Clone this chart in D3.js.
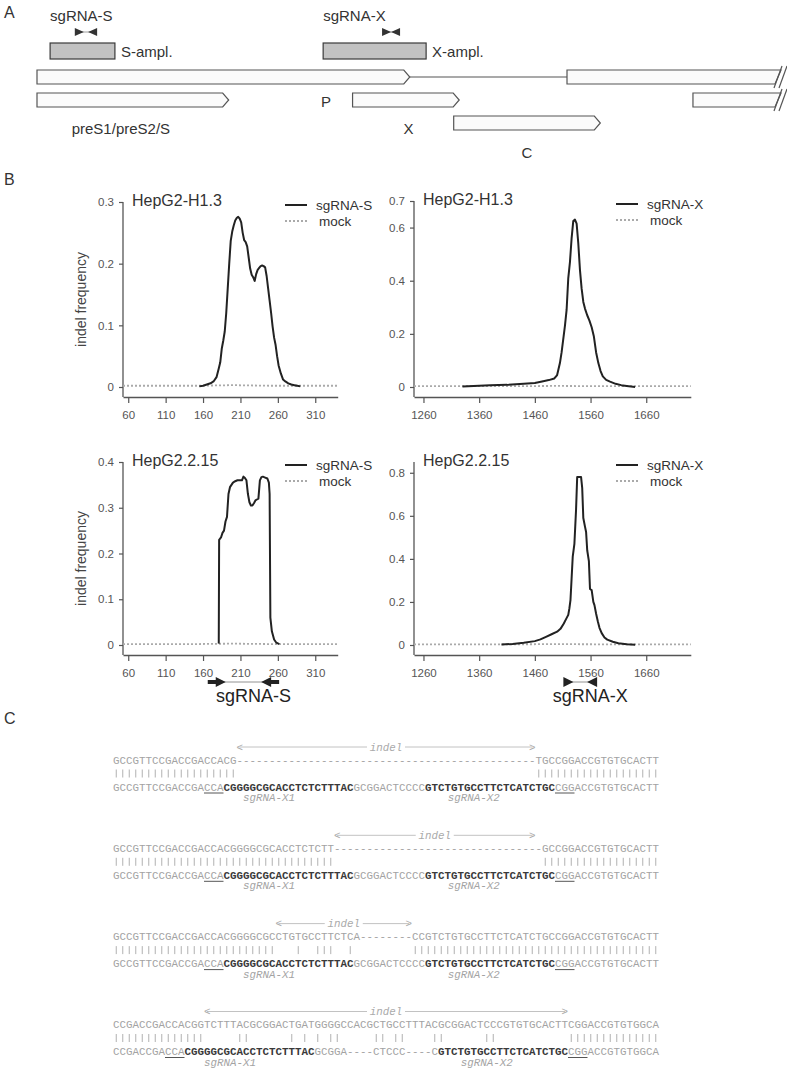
<!DOCTYPE html>
<html><head><meta charset="utf-8">
<script src="https://cdn.jsdelivr.net/npm/d3@7"></script>
<style>body{margin:0;background:#fff} svg{display:block}</style>
</head><body>
<svg id="fig" width="787" height="1068"></svg>
<script>
// ===================== DATA =====================
// Panel A: HBV genome map (nt positions)
const genomeLength = 3182;
const ampliconNames = ["S-ampl.", "X-ampl."];
const ampliconStart = [58, 1246];
const ampliconEnd = [340, 1694];
const sgRNANames = ["sgRNA-S", "sgRNA-X"];
const sgRNALeft = [185, 1522];
const sgRNARight = [243, 1561];
const orfNames = ["P", "preS1/preS2/S", "X", "C"];
const orfStarts = [[1, 2307], [1, 2855], [1374], [1814]];
const orfEnds = [[1623, 3225], [835, 3225], [1838], [2452]];
const orfLinked = [true, false, false, false];
const orfRow = [0, 1, 1, 2];

// Panel B: indel frequency profiles
const sH13x = [155,160,165,170,174,178,181,183,185,187,189,191,193,195,197,199,201,203,205,207,209,211,213,215,217,219,221,223,225,227,229,231,233,235,237,239,241,243,245,247,249,251,253,255,257,259,261,264,267,270,274,278,282,286,290];
const sH13y = [0.001,0.002,0.004,0.006,0.009,0.016,0.03,0.04,0.062,0.075,0.09,0.12,0.16,0.2,0.237,0.252,0.262,0.27,0.274,0.276,0.273,0.267,0.25,0.238,0.235,0.228,0.21,0.192,0.182,0.178,0.172,0.183,0.19,0.193,0.196,0.197,0.196,0.194,0.18,0.16,0.14,0.12,0.098,0.08,0.068,0.05,0.035,0.022,0.012,0.009,0.006,0.004,0.003,0.002,0.001];
const xH13x = [1330,1350,1380,1410,1440,1460,1475,1485,1495,1500,1505,1508,1511,1514,1517,1520,1523,1526,1529,1532,1535,1538,1541,1544,1547,1550,1554,1558,1562,1566,1570,1574,1578,1582,1588,1595,1605,1615,1625,1640];
const xH13y = [0.002,0.004,0.007,0.008,0.012,0.015,0.022,0.026,0.032,0.045,0.09,0.13,0.18,0.23,0.29,0.41,0.47,0.56,0.625,0.63,0.615,0.54,0.44,0.37,0.32,0.295,0.27,0.25,0.225,0.19,0.13,0.09,0.06,0.04,0.027,0.02,0.012,0.007,0.004,0.0];
const s215x = [181,181.5,184,186,188,190,192,194,196,198,200,203,206,209,212,214,216,218,220,222,224,226,228,230,232,234,236,238,240,243,246,248,249,250,252,255,258,262];
const s215y = [0.003,0.23,0.235,0.245,0.25,0.27,0.28,0.33,0.345,0.35,0.355,0.358,0.36,0.36,0.36,0.368,0.365,0.36,0.33,0.312,0.305,0.305,0.31,0.316,0.318,0.32,0.36,0.367,0.368,0.366,0.364,0.355,0.33,0.06,0.03,0.012,0.005,0.002];
const x215x = [1400,1420,1440,1460,1470,1480,1490,1500,1506,1512,1516,1520,1522,1524,1526,1528,1531,1534,1536,1540,1543,1545,1547,1550,1552,1554,1557,1559,1562,1565,1567,1570,1573,1576,1580,1585,1590,1600,1610,1625,1640];
const x215y = [0.002,0.005,0.01,0.018,0.026,0.038,0.05,0.062,0.075,0.1,0.12,0.14,0.17,0.21,0.31,0.41,0.47,0.63,0.78,0.78,0.78,0.73,0.59,0.55,0.525,0.44,0.39,0.26,0.255,0.2,0.185,0.145,0.11,0.08,0.055,0.035,0.025,0.015,0.008,0.004,0.001];
const mockSx = [53,100,150,200,250,300,340];
const mockSy = [0.002,0.002,0.002,0.003,0.002,0.002,0.002];
const mockXx = [1243,1300,1400,1500,1600,1700,1740];
const mockXy = [0.003,0.003,0.003,0.004,0.003,0.003,0.003];
const ticksS = [60,110,160,210,260,310];
const ticksX = [1260,1360,1460,1560,1660];
const plotTitles = ["HepG2-H1.3", "HepG2-H1.3", "HepG2.2.15", "HepG2.2.15"];
const yTicksList = [[0,0.1,0.2,0.3],[0,0.2,0.4,0.6,0.7],[0,0.1,0.2,0.3,0.4],[0,0.2,0.4,0.6,0.8]];
const yMaxList = [0.3, 0.7, 0.4, 0.85];

// Panel C: alignments
const sgX1 = "CGGGGCGCACCTCTCTTTAC";
const sgX2 = "GTCTGTGCCTTCTCATCTGC";
const refA = "GCCGTTCCGACCGACCACGGGGCGCACCTCTCTTTACGCGGACTCCCCGTCTGTGCCTTCTCATCTGCCGGACCGTGTGCACTT";
const refB = "CCGACCGACCA" + "CGGGGCGCACCTCTCTTTAC" + "GCGGA----CTCCC----C" + "GTCTGTGCCTTCTCATCTGC" + "CGG" + "ACCGTGTGGCA";
const queryRows = [
  "GCCGTTCCGACCGACCACG" + "-".repeat(46) + "TGCCGGACCGTGTGCACTT",
  "GCCGTTCCGACCGACCACGGGGCGCACCTCTCTT" + "-".repeat(32) + "GCCGGACCGTGTGCACTT",
  "GCCGTTCCGACCGACCACGGGGCGCCTGTGCCTTCTCA" + "--------" + "CCGTCTGTGCCTTCTCATCTGCCGGACCGTGTGCACTT",
  "CCGACCGACCACGGTCTTTACGCGGACTGATGGGGCCACGCTGCCTTTACGCGGACTCCCGTGTGCACTTCGGACCGTGTGGCA"
];
const refRows = [refA, refA, refA, refB];
const indelFrom = [19, 34, 25, 14];
const indelTo = [65, 65, 46, 70];

// ===================== DRAWING =====================
const svg = d3.select("#fig");
const SANS = "'Liberation Sans', Arial, sans-serif";
const MONO = "'Liberation Mono', 'Courier New', monospace";

[["A", 4, 18], ["B", 4, 185], ["C", 4, 724]].forEach(([t, x, y]) =>
  svg.append("text").attr("x", x).attr("y", y).text(t)
    .attr("font-family", SANS).attr("font-size", 16).attr("fill", "#333"));

// ---------- Panel A ----------
const gx = d3.scaleLinear().domain([1, 3225]).range([37, 778]);
const A = svg.append("g");
const rowTop = [70, 93, 116], boxH = 14, ptLen = 6;

ampliconNames.forEach((name, i) => {
  const x0 = gx(ampliconStart[i]), x1 = gx(ampliconEnd[i]);
  A.append("rect").attr("x", x0).attr("y", 43).attr("width", x1 - x0).attr("height", 16)
    .attr("fill", "#c2c2c2").attr("stroke", "#3a3a3a").attr("stroke-width", 1.2);
  A.append("text").attr("x", x1 + 6).attr("y", 57).text(name)
    .attr("font-family", SANS).attr("font-size", 15).attr("fill", "#333");
  A.append("text").attr("x", x0).attr("y", 21).text(sgRNANames[i])
    .attr("font-family", SANS).attr("font-size", 15).attr("fill", "#333");
  const a = gx(sgRNALeft[i]), b = gx(sgRNARight[i]), cy = 32;
  A.append("line").attr("x1", a).attr("x2", b).attr("y1", cy).attr("y2", cy)
    .attr("stroke", "#888").attr("stroke-width", 0.8);
  A.append("path").attr("d", `M${a - 4.5},${cy - 4} L${a + 4.5},${cy} L${a - 4.5},${cy + 4} Z`).attr("fill", "#333");
  A.append("path").attr("d", `M${b + 4.5},${cy - 4} L${b - 4.5},${cy} L${b + 4.5},${cy + 4} Z`).attr("fill", "#333");
});

orfNames.forEach((name, i) => {
  const y0 = rowTop[orfRow[i]];
  orfStarts[i].forEach((s, j) => {
    const e = orfEnds[i][j];
    const x0 = gx(s), x1 = gx(e);
    if (e > genomeLength) {
      A.append("path").attr("d", `M${x0},${y0} H${x1 + 3} L${x1 - 3},${y0 + boxH} H${x0} Z`)
        .attr("fill", "#fbfbfb").attr("stroke", "#555").attr("stroke-width", 1.2);
      A.append("line").attr("x1", x1 + 1).attr("y1", y0 + boxH + 4).attr("x2", x1 + 9).attr("y2", y0 - 4)
        .attr("stroke", "#555").attr("stroke-width", 1.2);
      A.append("line").attr("x1", x1 - 4).attr("y1", y0 + boxH + 4).attr("x2", x1 + 4).attr("y2", y0 - 4)
        .attr("stroke", "#555").attr("stroke-width", 1.2);
    } else {
      A.append("path").attr("d", `M${x0},${y0} H${x1 - ptLen} L${x1},${y0 + boxH / 2} L${x1 - ptLen},${y0 + boxH} H${x0} Z`)
        .attr("fill", "#fbfbfb").attr("stroke", "#555").attr("stroke-width", 1.2);
    }
  });
  if (orfLinked[i]) {
    for (let j = 0; j < orfStarts[i].length - 1; j++) {
      A.append("line").attr("x1", gx(orfEnds[i][j])).attr("x2", gx(orfStarts[i][j + 1]))
        .attr("y1", y0 + boxH / 2).attr("y2", y0 + boxH / 2).attr("stroke", "#555").attr("stroke-width", 1.2);
    }
  }
});
// ORF label anchors (genome coordinates): under each ORF
const orfLabelAt = [1258, 366, 1617, 2133], orfLabelY = [107, 134, 134, 158];
orfNames.forEach((name, i) =>
  A.append("text").attr("x", gx(orfLabelAt[i])).attr("y", orfLabelY[i]).attr("text-anchor", "middle")
    .text(name).attr("font-family", SANS).attr("font-size", 15).attr("fill", "#333"));

// ---------- Panel B ----------
const plots = [
  {left: 123, right: 337.7, dom: [53, 340], top: 202, zero: 387, axisY: 397, ticks: ticksS,
   xs: sH13x, ys: sH13y, mx: mockSx, my: mockSy, leg: "sgRNA-S", legX: 285, ylab: true},
  {left: 414, right: 690.8, dom: [1243, 1740], top: 201, zero: 387, axisY: 397, ticks: ticksX,
   xs: xH13x, ys: xH13y, mx: mockXx, my: mockXy, leg: "sgRNA-X", legX: 616, ylab: false},
  {left: 123, right: 337.7, dom: [53, 340], top: 462, zero: 645, axisY: 655, ticks: ticksS,
   xs: s215x, ys: s215y, mx: mockSx, my: mockSy, leg: "sgRNA-S", legX: 285, ylab: true},
  {left: 414, right: 690.8, dom: [1243, 1740], top: 462, zero: 645, axisY: 655, ticks: ticksX,
   xs: x215x, ys: x215y, mx: mockXx, my: mockXy, leg: "sgRNA-X", legX: 616, ylab: false}
];
const xScales = [];
plots.forEach((p, k) => {
  const x = d3.scaleLinear().domain(p.dom).range([p.left, p.right]);
  xScales.push(x);
  const y = d3.scaleLinear().domain([0, yMaxList[k]]).range([p.zero, p.top]);
  const g = svg.append("g");
  const ya = g.append("g").attr("transform", `translate(${p.left},0)`)
    .call(d3.axisLeft(y).tickValues(yTicksList[k]).tickSize(4).tickPadding(5)
      .tickFormat(d => d === 0 ? "0" : d3.format(".1f")(d)));
  ya.select(".domain").remove();
  g.append("line").attr("x1", p.left).attr("x2", p.left).attr("y1", p.top).attr("y2", p.axisY)
    .attr("stroke", "#555").attr("stroke-width", 1.3);
  const xa = g.append("g").attr("transform", `translate(0,${p.axisY})`)
    .call(d3.axisBottom(x).tickValues(p.ticks).tickSize(6).tickSizeOuter(0).tickPadding(8).tickFormat(d3.format("d")));
  xa.select(".domain").attr("stroke", "#555").attr("stroke-width", 1.3);
  [ya, xa].forEach(a => {
    a.selectAll(".tick line").attr("stroke", "#555").attr("stroke-width", 1.2);
    a.selectAll(".tick text").attr("fill", "#555").attr("font-size", 11.5).attr("font-family", SANS);
  });
  const line = d3.line().x(d => x(d[0])).y(d => y(d[1]));
  g.append("path").datum(d3.zip(p.mx, p.my)).attr("d", line).attr("fill", "none")
    .attr("stroke", "#aaa").attr("stroke-width", 1.8).attr("stroke-dasharray", "2,2");
  g.append("path").datum(d3.zip(p.xs, p.ys)).attr("d", line).attr("fill", "none")
    .attr("stroke", "#222").attr("stroke-width", 2).attr("stroke-linejoin", "round");
  g.append("text").attr("x", p.left + 9).attr("y", p.top + 4).text(plotTitles[k])
    .attr("font-family", SANS).attr("font-size", 16).attr("fill", "#333");
  const ly = p.top + 3;
  g.append("line").attr("x1", p.legX).attr("x2", p.legX + 22).attr("y1", ly).attr("y2", ly)
    .attr("stroke", "#222").attr("stroke-width", 2);
  g.append("text").attr("x", p.legX + 31).attr("y", ly + 5).text(p.leg)
    .attr("font-family", SANS).attr("font-size", 13.5).attr("fill", "#333");
  g.append("line").attr("x1", p.legX).attr("x2", p.legX + 22).attr("y1", ly + 16).attr("y2", ly + 16)
    .attr("stroke", "#aaa").attr("stroke-width", 1.8).attr("stroke-dasharray", "2,2");
  g.append("text").attr("x", p.legX + 34).attr("y", ly + 21).text("mock")
    .attr("font-family", SANS).attr("font-size", 13.5).attr("fill", "#333");
  if (p.ylab) {
    g.append("text").attr("transform", `translate(86,${(p.top + p.axisY) / 2}) rotate(-90)`)
      .attr("text-anchor", "middle").text("indel frequency")
      .attr("font-family", SANS).attr("font-size", 14).attr("fill", "#444");
  }
});
[0, 1].forEach(i => {
  const x = xScales[2 + i];
  const a = x(sgRNALeft[i]), b = x(sgRNARight[i]), cy = 682;
  const g = svg.append("g");
  g.append("line").attr("x1", a).attr("x2", b).attr("y1", cy).attr("y2", cy).attr("stroke", "#777").attr("stroke-width", 0.8);
  const shaft = i === 0 ? 8 : 0;
  g.append("path").attr("d", `M${a - 6 - shaft},${cy - 2} H${a - 6} V${cy - 5} L${a + 4},${cy} L${a - 6},${cy + 5} V${cy + 2} H${a - 6 - shaft} Z`).attr("fill", "#222");
  g.append("path").attr("d", `M${b + 6 + shaft},${cy - 2} H${b + 6} V${cy - 5} L${b - 4},${cy} L${b + 6},${cy + 5} V${cy + 2} H${b + 6 + shaft} Z`).attr("fill", "#222");
  g.append("text").attr("x", (a + b) / 2 + 10).attr("y", 702).attr("text-anchor", "middle").text(sgRNANames[i])
    .attr("font-family", SANS).attr("font-size", 18).attr("fill", "#222");
});

// ---------- Panel C ----------
const cx = d3.scaleLinear().domain([0, 84]).range([113, 659]);
const blockY = [760, 848.3, 936.6, 1024.5];
const fs = 10.83;
queryRows.forEach((q, b) => {
  const r = refRows[b];
  const y0 = blockY[b];
  const g = svg.append("g").attr("font-family", MONO).attr("font-size", fs);
  const ia = cx(indelFrom[b]), ib = cx(indelTo[b]), mid = (ia + ib) / 2, iy = y0 - 13;
  g.append("text").attr("x", ia).attr("y", iy + 3.5).text("<").attr("fill", "#aaa");
  g.append("text").attr("x", ib).attr("y", iy + 3.5).attr("text-anchor", "end").text(">").attr("fill", "#aaa");
  g.append("text").attr("x", mid).attr("y", iy + 3.5).attr("text-anchor", "middle").text("indel")
    .attr("font-style", "italic").attr("fill", "#aaa");
  g.append("line").attr("x1", ia + 3).attr("x2", mid - 19).attr("y1", iy).attr("y2", iy).attr("stroke", "#bbb").attr("stroke-width", 0.9);
  g.append("line").attr("x1", mid + 19).attr("x2", ib - 3).attr("y1", iy).attr("y2", iy).attr("stroke", "#bbb").attr("stroke-width", 0.9);
  g.append("text").attr("x", cx(0)).attr("y", y0 + 3.8).attr("textLength", cx(84) - cx(0))
    .attr("lengthAdjust", "spacing").attr("fill", "#a3a3a3").text(q);
  // match marks between aligned identical bases
  const matches = [];
  for (let i = 0; i < q.length; i++) if (q[i] !== "-" && q[i] === r[i]) matches.push(i);
  g.selectAll("line.match").data(matches).join("line").attr("class", "match")
    .attr("x1", i => cx(i + 0.5)).attr("x2", i => cx(i + 0.5))
    .attr("y1", y0 + 9.5).attr("y2", y0 + 17.5).attr("stroke", "#a8a8a8").attr("stroke-width", 0.9);
  const s1 = r.indexOf(sgX1), s2 = r.indexOf(sgX2);
  const segs = [[0, s1, false], [s1, s1 + 20, true], [s1 + 20, s2, false], [s2, s2 + 20, true], [s2 + 20, 84, false]];
  const t = g.append("text").attr("x", cx(0)).attr("y", y0 + 27 + 3.8).attr("textLength", cx(84) - cx(0))
    .attr("lengthAdjust", "spacing");
  segs.forEach(([a, b2, bold]) => t.append("tspan").text(r.slice(a, b2))
    .attr("font-weight", bold ? "bold" : "normal").attr("fill", bold ? "#3a3a3a" : "#a3a3a3"));
  [[s1 - 3, s1], [s2 + 20, s2 + 23]].forEach(([a, b2]) =>
    g.append("line").attr("x1", cx(a)).attr("x2", cx(b2)).attr("y1", y0 + 27 + 6).attr("y2", y0 + 27 + 6)
      .attr("stroke", "#555").attr("stroke-width", 1));
  [["sgRNA-X1", s1 + 3], ["sgRNA-X2", s2 + 3.5]].forEach(([lab, idx]) =>
    g.append("text").attr("x", cx(idx)).attr("y", y0 + 41).text(lab)
      .attr("font-style", "italic").attr("fill", "#a3a3a3"));
});
</script>
</body></html>
